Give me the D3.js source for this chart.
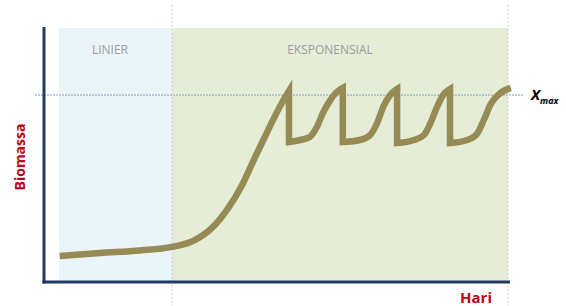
<!DOCTYPE html>
<html>
<head>
<meta charset="utf-8">
<script src="https://cdn.jsdelivr.net/npm/d3@7"></script>
<style>
  body { margin: 0; background: #fff; }
  text { font-family: "Open Sans", sans-serif; }
</style>
</head>
<body>
<div id="chart"></div>
<script>
// Chart size
var w = 566;
var h = 306;

// Phases (x in arbitrary day units)
var phaseNames = ["LINIER", "EKSPONENSIAL"];
var phaseStart = [3.2, 27.6];
var phaseEnd = [27.6, 100];
var xMaxLevel = 73.6;

// Growth curve, one array per piece; pieces are joined by a vertical drop
var growthDays = [3.4, 12.1, 20.7, 27.6, 32.5, 36.2, 39.7, 42.7, 45.5, 48.3, 50.9, 52.8];
var growthMass = [10.2, 11.4, 12.4, 13.8, 16.5, 21.3, 29.1, 38.2, 49.2, 59.8, 69.3, 75.2];
var cycle1Days = [52.8, 55.2, 57.3, 58.8, 60.1, 61.6, 63.1, 64.4];
var cycle1Mass = [55.1, 55.9, 57.1, 61.0, 66.5, 71.3, 74.8, 76.4];
var cycle2Days = [64.4, 68.1, 70.3, 71.8, 73.1, 74.6, 76.1];
var cycle2Mass = [55.1, 55.9, 57.9, 62.6, 68.9, 73.6, 76.0];
var cycle3Days = [76.1, 79.7, 81.9, 83.4, 84.7, 86.0, 87.5];
var cycle3Mass = [54.7, 55.9, 57.9, 63.0, 68.9, 73.6, 76.0];
var cycle4Days = [87.5, 91.2, 93.3, 94.8, 96.3, 98.1, 100.6];
var cycle4Mass = [54.7, 55.9, 58.3, 63.8, 70.1, 74.0, 76.4];

var pieces = [
    [growthDays, growthMass],
    [cycle1Days, cycle1Mass],
    [cycle2Days, cycle2Mass],
    [cycle3Days, cycle3Mass],
    [cycle4Days, cycle4Mass]
];

var x = d3.scaleLinear().domain([0, 100]).range([44, 508]);
var y = d3.scaleLinear().domain([0, 100]).range([282, 28]);

var svg = d3.select("#chart")
    .append("svg")
    .attr("width", w)
    .attr("height", h);

// Phase backgrounds
var bgColor = ["#eaf4f9", "#e5edd7"];
svg.selectAll("rect.phase")
    .data(phaseNames)
    .enter()
    .append("rect")
    .attr("class", "phase")
    .attr("x", function (d, i) { return x(phaseStart[i]); })
    .attr("y", y(100))
    .attr("width", function (d, i) { return x(phaseEnd[i]) - x(phaseStart[i]); })
    .attr("height", y(0) - y(100))
    .style("fill", function (d, i) { return bgColor[i]; });

svg.selectAll("text.phase")
    .data(phaseNames)
    .enter()
    .append("text")
    .attr("class", "phase")
    .attr("x", function (d, i) { return i == 0 ? 110 : 330; })
    .attr("y", 54)
    .attr("text-anchor", "middle")
    .style("font-size", "12px")
    .style("fill", "#9c9c9c")
    .text(function (d) { return d; });

// Phase boundaries
svg.selectAll("line.bound")
    .data([phaseEnd[0], phaseEnd[1]])
    .enter()
    .append("line")
    .attr("class", "bound")
    .attr("x1", function (d) { return x(d); })
    .attr("x2", function (d) { return x(d); })
    .attr("y1", 5)
    .attr("y2", h)
    .style("stroke", "#cfcfcf")
    .style("stroke-width", 1)
    .style("stroke-dasharray", "2,2");

// X max level
svg.append("line")
    .attr("x1", 35)
    .attr("x2", 524)
    .attr("y1", y(xMaxLevel))
    .attr("y2", y(xMaxLevel))
    .style("stroke", "#7f9fc4")
    .style("stroke-width", 1)
    .style("stroke-dasharray", "2,1");

var xl = svg.append("text")
    .attr("x", 531)
    .attr("y", y(xMaxLevel) + 5)
    .style("font-style", "italic")
    .style("font-weight", "bold")
    .style("fill", "#000");
xl.append("tspan").style("font-size", "15px").text("X");
xl.append("tspan").attr("dy", 4).style("font-size", "9px").text("max");

// Curve
var line = d3.line()
    .x(function (d) { return x(d[0]); })
    .y(function (d) { return y(d[1]); })
    .curve(d3.curveMonotoneX);

var d = pieces.map(function (p, i) {
    var pts = p[0].map(function (v, j) { return [v, p[1][j]]; });
    var s = line(pts);
    return i == 0 ? s : s.replace(/^M/, "L");
}).join("");

svg.append("path")
    .attr("d", d)
    .style("fill", "none")
    .style("stroke", "#968b55")
    .style("stroke-width", 6.5)
    .style("stroke-linejoin", "miter");

// Axes
svg.append("line")
    .attr("x1", x(0))
    .attr("x2", x(0))
    .attr("y1", 27)
    .attr("y2", y(0) + 1.5)
    .style("stroke", "#1f3b63")
    .style("stroke-width", 3);

svg.append("line")
    .attr("x1", x(0) - 1.5)
    .attr("x2", 510)
    .attr("y1", y(0))
    .attr("y2", y(0))
    .style("stroke", "#1f3b63")
    .style("stroke-width", 3);

svg.append("text")
    .attr("transform", "translate(25,157) rotate(-90)")
    .attr("text-anchor", "middle")
    .style("font-size", "14px")
    .style("font-weight", "bold")
    .style("fill", "#c00018")
    .text("Biomassa");

svg.append("text")
    .attr("x", 492)
    .attr("y", 303)
    .attr("text-anchor", "end")
    .style("font-size", "15px")
    .style("font-weight", "bold")
    .style("fill", "#c00018")
    .text("Hari");
</script>
</body>
</html>
